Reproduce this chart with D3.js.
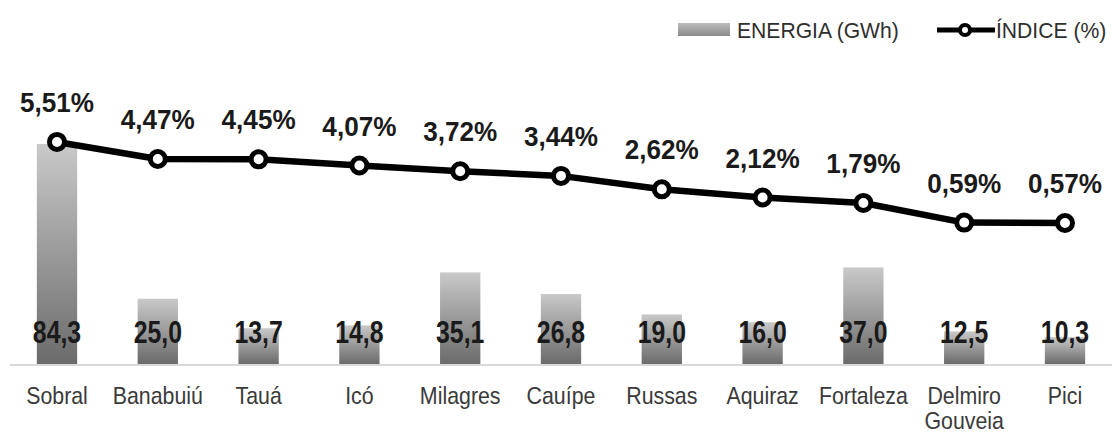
<!DOCTYPE html>
<html>
<head>
<meta charset="utf-8">
<script src="https://cdn.jsdelivr.net/npm/d3@7"></script>
<style>
  body { margin: 0; background: #fff; }
  svg { display: block; }
</style>
</head>
<body>
<svg id="chart" width="1112" height="434"></svg>
<script>
var categories = ["Sobral", "Banabuiú", "Tauá", "Icó", "Milagres", "Cauípe", "Russas", "Aquiraz", "Fortaleza", "Delmiro Gouveia", "Pici"];
var energia = [84.3, 25.0, 13.7, 14.8, 35.1, 26.8, 19.0, 16.0, 37.0, 12.5, 10.3];
var indice = [5.51, 4.47, 4.45, 4.07, 3.72, 3.44, 2.62, 2.12, 1.79, 0.59, 0.57];
var legendLabels = ["ENERGIA (GWh)", "ÍNDICE (%)"];

var data = categories.map(function (c, i) {
  return { cat: c, energia: energia[i], indice: indice[i] };
});

var br = d3.formatLocale({ decimal: ",", thousands: ".", grouping: [3], currency: ["R$", ""] });
var fmt1 = br.format(".1f");
var fmt2 = br.format(".2f");

var svg = d3.select("#chart");
var font = "'Liberation Sans', Arial, sans-serif";

var baseY = 364;
var x = d3.scaleBand()
  .domain(categories)
  .range([6.6, 1115.4])
  .paddingInner(0.6)
  .paddingOuter(0.3);

function cx(d) { return x(d.cat) + x.bandwidth() / 2; }

var yBar = d3.scaleLinear().domain([0, 84.3]).range([baseY, 144]);
var yLine = d3.scaleLinear().domain([0, 6]).range([232.3, 133.9]);

// gradient for bars
var defs = svg.append("defs");
var grad = defs.append("linearGradient")
  .attr("id", "barGrad")
  .attr("x1", 0).attr("y1", 0).attr("x2", 0).attr("y2", 1);
grad.append("stop").attr("offset", "0%").attr("stop-color", "#c9c9c9");
grad.append("stop").attr("offset", "100%").attr("stop-color", "#6b6b6b");

var lgGrad = defs.append("linearGradient")
  .attr("id", "legGrad")
  .attr("x1", 0).attr("y1", 0).attr("x2", 0).attr("y2", 1);
lgGrad.append("stop").attr("offset", "0%").attr("stop-color", "#bdbdbd");
lgGrad.append("stop").attr("offset", "100%").attr("stop-color", "#8a8a8a");

// bars
svg.append("g")
  .selectAll("rect")
  .data(data)
  .enter()
  .append("rect")
  .attr("x", function (d) { return x(d.cat); })
  .attr("y", function (d) { return yBar(d.energia); })
  .attr("width", x.bandwidth())
  .attr("height", function (d) { return baseY - yBar(d.energia); })
  .attr("fill", "url(#barGrad)");

// axis line
svg.append("line")
  .attr("x1", 10).attr("x2", 1112)
  .attr("y1", baseY + 1).attr("y2", baseY + 1)
  .attr("stroke", "#d9d9d9")
  .attr("stroke-width", 2);

// bar value labels (condensed look)
svg.append("g")
  .selectAll("text")
  .data(data)
  .enter()
  .append("text")
  .attr("transform", function (d) { return "translate(" + cx(d) + ",343) scale(0.8,1)"; })
  .attr("text-anchor", "middle")
  .attr("font-family", font)
  .attr("font-weight", "bold")
  .attr("font-size", "31px")
  .attr("fill", "#1a1a1a")
  .text(function (d) { return fmt1(d.energia); });

// category labels
var catG = svg.append("g")
  .selectAll("text")
  .data(data)
  .enter()
  .append("text")
  .attr("transform", function (d) { return "translate(" + cx(d) + ",404) scale(0.89,1)"; })
  .attr("text-anchor", "middle")
  .attr("font-family", font)
  .attr("font-size", "24px")
  .attr("fill", "#3a3a3a");

catG.each(function (d) {
  var words = d.cat === "Delmiro Gouveia" ? ["Delmiro", "Gouveia"] : [d.cat];
  var t = d3.select(this);
  words.forEach(function (w, i) {
    t.append("tspan")
      .attr("x", 0)
      .attr("dy", i === 0 ? 0 : 25)
      .text(w);
  });
});

// line
var line = d3.line()
  .x(cx)
  .y(function (d) { return yLine(d.indice); });

svg.append("path")
  .datum(data)
  .attr("d", line)
  .attr("fill", "none")
  .attr("stroke", "#000")
  .attr("stroke-width", 6.5)
  .attr("stroke-linejoin", "round");

svg.append("g")
  .selectAll("circle")
  .data(data)
  .enter()
  .append("circle")
  .attr("cx", cx)
  .attr("cy", function (d) { return yLine(d.indice); })
  .attr("r", 7.5)
  .attr("fill", "#fff")
  .attr("stroke", "#000")
  .attr("stroke-width", 5);

// percentage labels
svg.append("g")
  .selectAll("text")
  .data(data)
  .enter()
  .append("text")
  .attr("transform", function (d) { return "translate(" + cx(d) + "," + (yLine(d.indice) - 30) + ") scale(0.95,1)"; })
  .attr("text-anchor", "middle")
  .attr("font-family", font)
  .attr("font-weight", "bold")
  .attr("font-size", "27.5px")
  .attr("fill", "#1a1a1a")
  .text(function (d) { return fmt2(d.indice) + "%"; });

// legend
var legend = svg.append("g")
  .attr("font-family", font)
  .attr("font-size", "22px")
  .attr("fill", "#2e2e2e");

legend.append("rect")
  .attr("x", 678).attr("y", 23)
  .attr("width", 52).attr("height", 13)
  .attr("fill", "url(#legGrad)");

legend.append("text")
  .attr("transform", "translate(737,38) scale(0.96,1)")
  .text(legendLabels[0]);

legend.append("line")
  .attr("x1", 937).attr("x2", 995)
  .attr("y1", 30).attr("y2", 30)
  .attr("stroke", "#000")
  .attr("stroke-width", 5);

legend.append("circle")
  .attr("cx", 965).attr("cy", 30)
  .attr("r", 5)
  .attr("fill", "#fff")
  .attr("stroke", "#000")
  .attr("stroke-width", 4);

legend.append("text")
  .attr("transform", "translate(996,38) scale(0.96,1)")
  .text(legendLabels[1]);
</script>
</body>
</html>
